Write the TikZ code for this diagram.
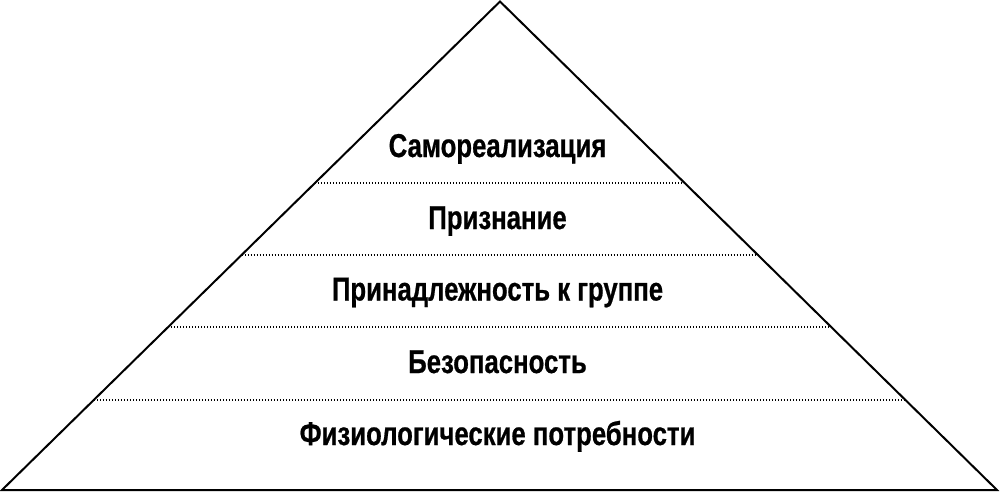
\documentclass[tikz,border=0pt]{standalone}
\usepackage{fontspec}
\setmainfont{Liberation Sans}[FakeStretch=0.78,FakeBold=0.6]
\usetikzlibrary{calc}
\tikzset{
  edge/.style={line width=2pt, line join=miter},
  divider/.style={line width=1.2pt, dash pattern=on 1.2pt off 1.8pt},
  level/.style={anchor=base, inner sep=0pt, font=\fontsize{33}{34}\selectfont\bfseries}
}
\begin{document}
\begin{tikzpicture}[x=1pt,y=-1pt]
\useasboundingbox[fill=white] (0,0) rectangle (1000,492);
\coordinate (A) at (500,1.5);
\coordinate (L) at (2,490);
\coordinate (R) at (997,490);
\draw[edge] (L) -- (A) -- (R) -- cycle;
\foreach \y/\n in {183/d1,255/d2,327/d3,400/d4}{
  \pgfmathsetmacro{\t}{(\y-1.5)/488.5}
  \coordinate (\n l) at ($(A)!\t!(L)$);
  \coordinate (\n r) at ($(A)!\t!(R)$);
  \draw[divider] (\n l) -- (\n r);
}
\node[level] (s1) at (497.5,157) {Самореализация};
\node[level] (s2) at (497.5,229) {Признание};
\node[level] (s3) at (497.5,300.5) {Принадлежность к группе};
\node[level] (s4) at (497.5,373) {Безопасность};
\node[level] (s5) at (497.5,445) {Физиологические потребности};
\end{tikzpicture}
\end{document}
